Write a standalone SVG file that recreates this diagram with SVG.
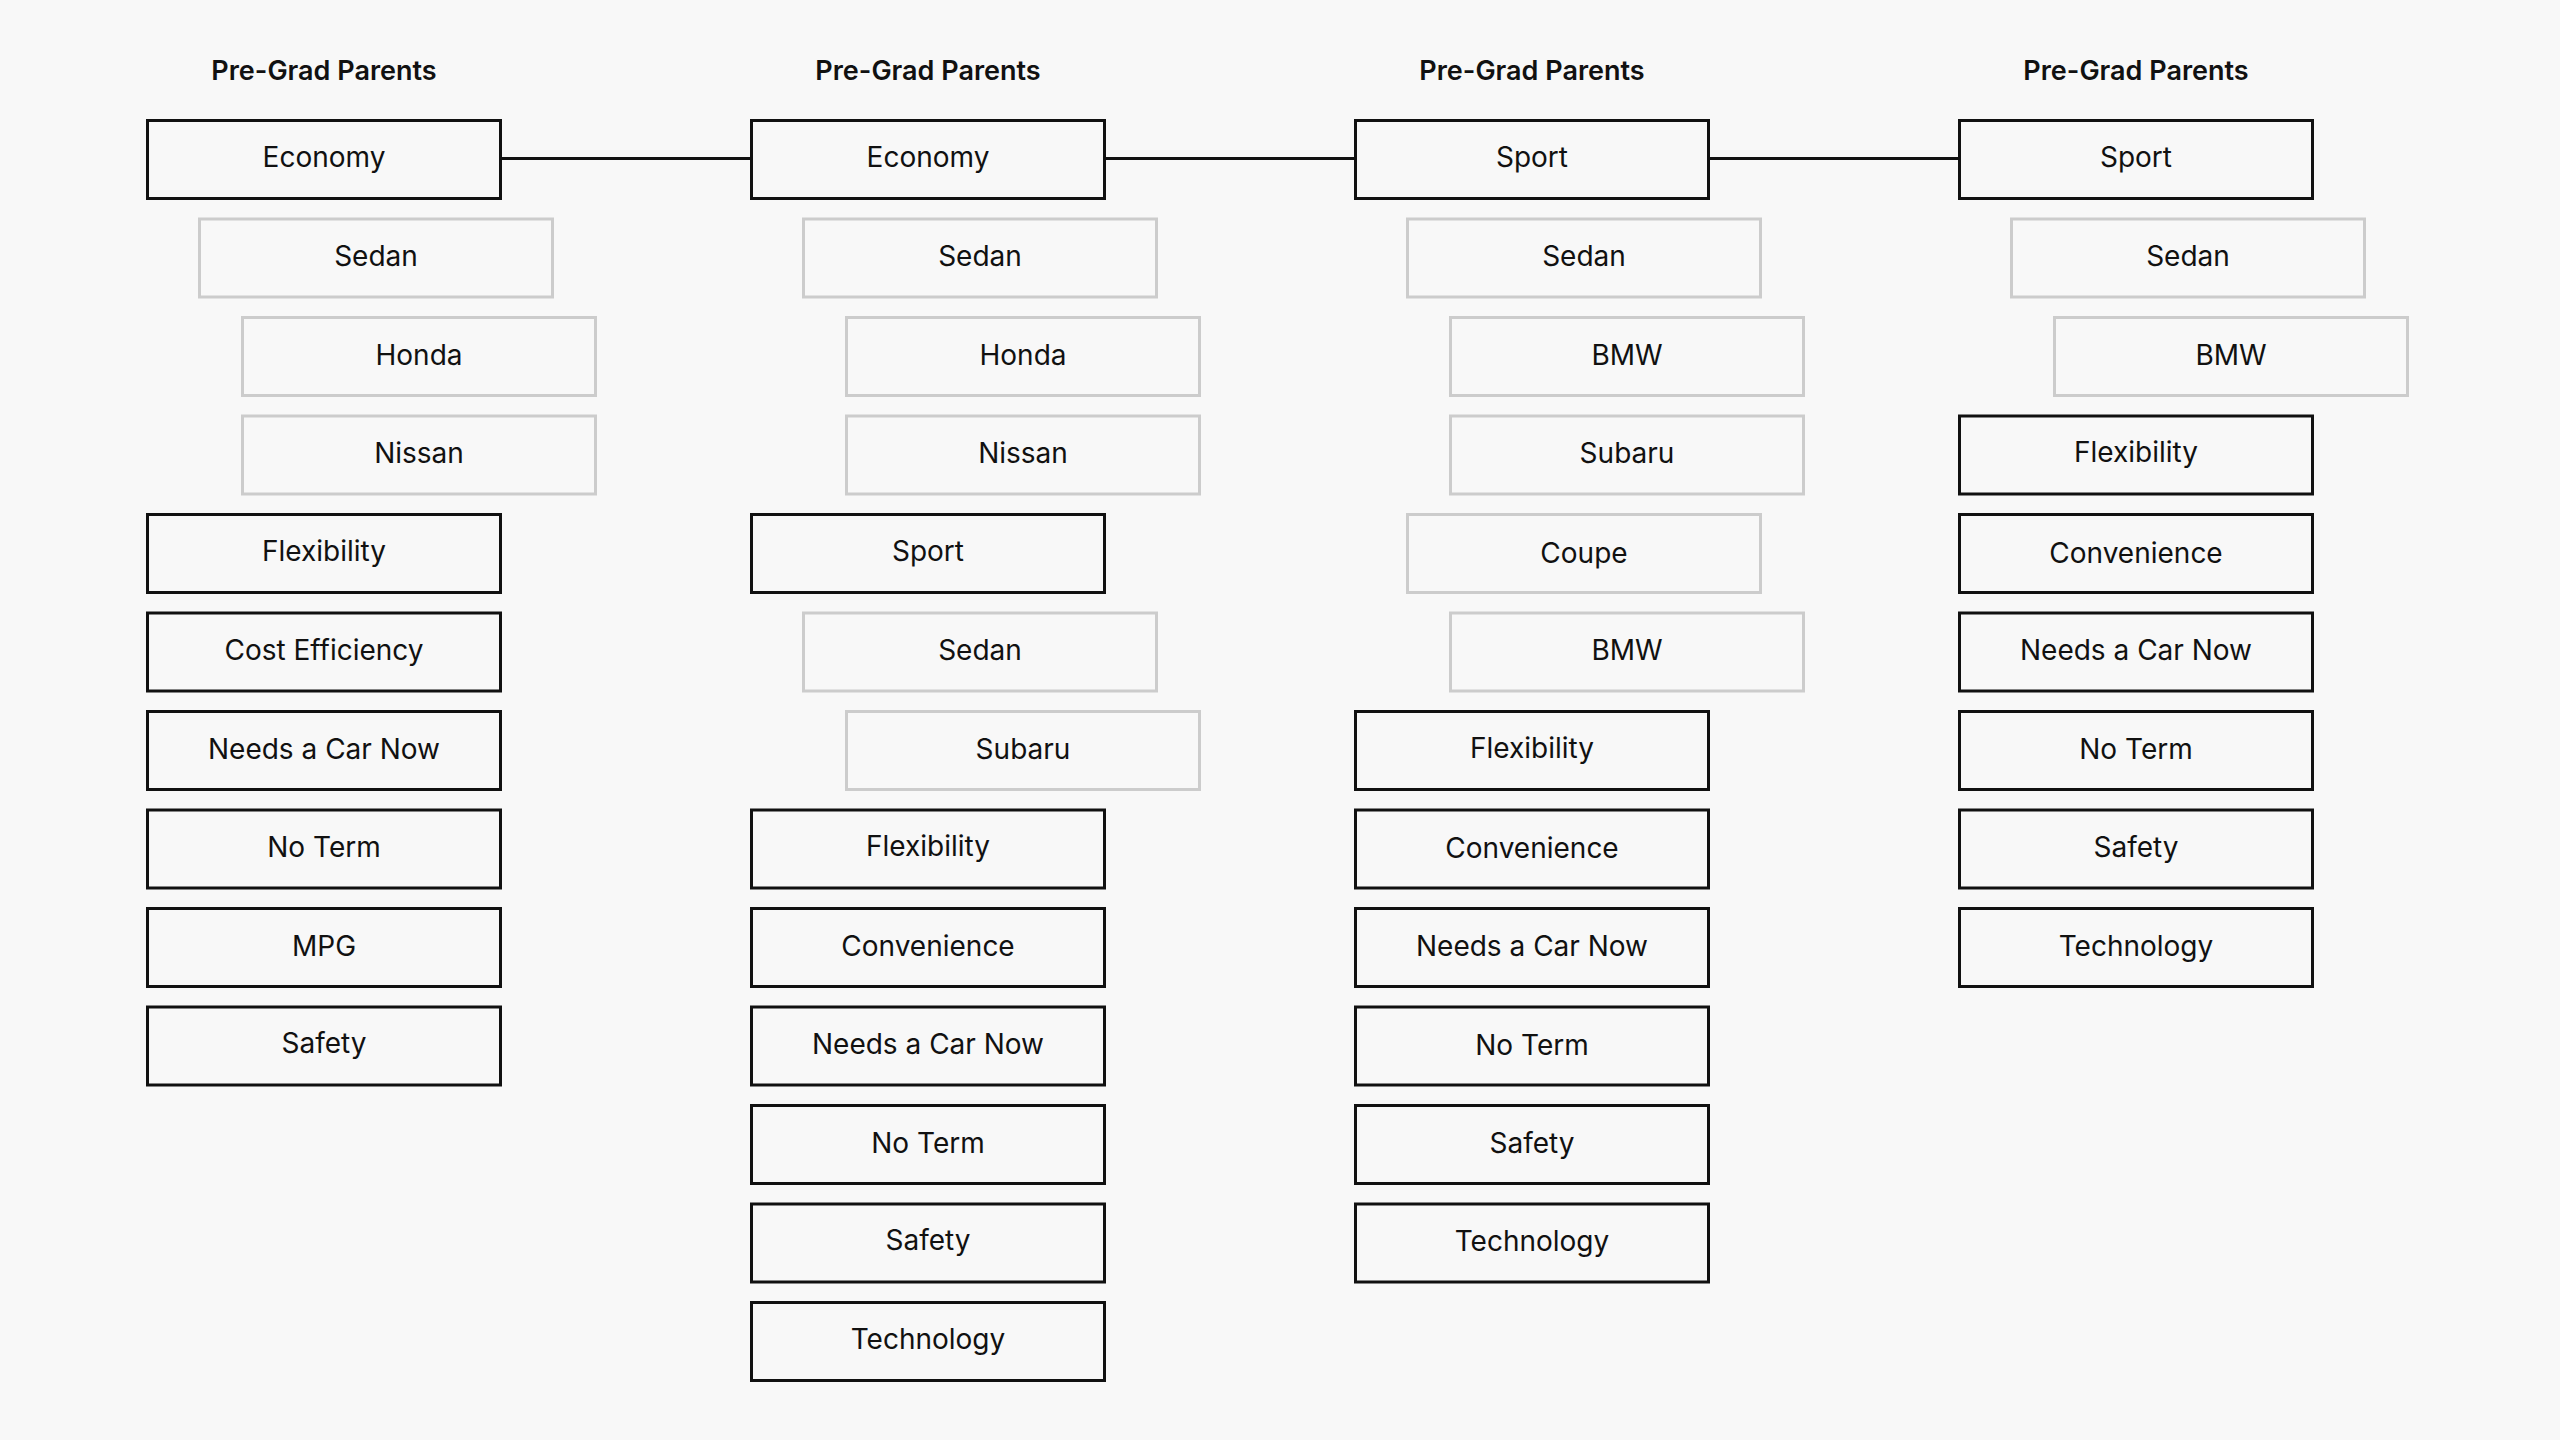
<svg xmlns="http://www.w3.org/2000/svg" width="2560" height="1440" viewBox="0 0 2560 1440">
<style>
.bg{fill:#f8f8f8}
.main rect{fill:#f8f8f8;stroke:#111111;stroke-width:3}
.sub rect{fill:#f8f8f8;stroke:#cccccc;stroke-width:3}
text{font-family:Inter,"Noto Sans","Liberation Sans",sans-serif;font-size:28px;fill:#111111;text-anchor:middle}
.hdr{font-weight:600;font-size:27px;letter-spacing:0px}
.conn line{stroke:#111111;stroke-width:3}
</style>
<rect class="bg" x="0" y="0" width="2560" height="1440"/>
<g id="headers">
<text class="hdr" x="324" y="80">Pre-Grad Parents</text>
<text class="hdr" x="928" y="80">Pre-Grad Parents</text>
<text class="hdr" x="1532" y="80">Pre-Grad Parents</text>
<text class="hdr" x="2136" y="80">Pre-Grad Parents</text>
</g>
<g id="connectors" class="conn">
<line x1="502" y1="158.5" x2="751" y2="158.5"/>
<line x1="1106" y1="158.5" x2="1355" y2="158.5"/>
<line x1="1710" y1="158.5" x2="1959" y2="158.5"/>
</g>
<!-- Column 1 -->
<g id="c1-economy" class="main"><rect x="147.5" y="120.5" width="353" height="78"/><text x="324" y="166.5">Economy</text></g>
<g id="c1-sedan" class="sub"><rect x="199.5" y="219" width="353" height="78"/><text x="376" y="266">Sedan</text></g>
<g id="c1-honda" class="sub"><rect x="242.5" y="317.5" width="353" height="78"/><text x="419" y="364.5">Honda</text></g>
<g id="c1-nissan" class="sub"><rect x="242.5" y="416" width="353" height="78"/><text x="419" y="463">Nissan</text></g>
<g id="c1-flexibility" class="main"><rect x="147.5" y="514.5" width="353" height="78"/><text x="324" y="560.5">Flexibility</text></g>
<g id="c1-cost" class="main"><rect x="147.5" y="613" width="353" height="78"/><text x="324" y="660">Cost Efficiency</text></g>
<g id="c1-needs" class="main"><rect x="147.5" y="711.5" width="353" height="78"/><text x="324" y="758.5">Needs a Car Now</text></g>
<g id="c1-noterm" class="main"><rect x="147.5" y="810" width="353" height="78"/><text x="324" y="857">No Term</text></g>
<g id="c1-mpg" class="main"><rect x="147.5" y="908.5" width="353" height="78"/><text x="324" y="955.5">MPG</text></g>
<g id="c1-safety" class="main"><rect x="147.5" y="1007" width="353" height="78"/><text x="324" y="1053">Safety</text></g>
<!-- Column 2 -->
<g id="c2-economy" class="main"><rect x="751.5" y="120.5" width="353" height="78"/><text x="928" y="166.5">Economy</text></g>
<g id="c2-sedan" class="sub"><rect x="803.5" y="219" width="353" height="78"/><text x="980" y="266">Sedan</text></g>
<g id="c2-honda" class="sub"><rect x="846.5" y="317.5" width="353" height="78"/><text x="1023" y="364.5">Honda</text></g>
<g id="c2-nissan" class="sub"><rect x="846.5" y="416" width="353" height="78"/><text x="1023" y="463">Nissan</text></g>
<g id="c2-sport" class="main"><rect x="751.5" y="514.5" width="353" height="78"/><text x="928" y="560.5">Sport</text></g>
<g id="c2-sedan2" class="sub"><rect x="803.5" y="613" width="353" height="78"/><text x="980" y="660">Sedan</text></g>
<g id="c2-subaru" class="sub"><rect x="846.5" y="711.5" width="353" height="78"/><text x="1023" y="758.5">Subaru</text></g>
<g id="c2-flexibility" class="main"><rect x="751.5" y="810" width="353" height="78"/><text x="928" y="856">Flexibility</text></g>
<g id="c2-convenience" class="main"><rect x="751.5" y="908.5" width="353" height="78"/><text x="928" y="955.5">Convenience</text></g>
<g id="c2-needs" class="main"><rect x="751.5" y="1007" width="353" height="78"/><text x="928" y="1054">Needs a Car Now</text></g>
<g id="c2-noterm" class="main"><rect x="751.5" y="1105.5" width="353" height="78"/><text x="928" y="1152.5">No Term</text></g>
<g id="c2-safety" class="main"><rect x="751.5" y="1204" width="353" height="78"/><text x="928" y="1250">Safety</text></g>
<g id="c2-technology" class="main"><rect x="751.5" y="1302.5" width="353" height="78"/><text x="928" y="1348.5">Technology</text></g>
<!-- Column 3 -->
<g id="c3-sport" class="main"><rect x="1355.5" y="120.5" width="353" height="78"/><text x="1532" y="166.5">Sport</text></g>
<g id="c3-sedan" class="sub"><rect x="1407.5" y="219" width="353" height="78"/><text x="1584" y="266">Sedan</text></g>
<g id="c3-bmw" class="sub"><rect x="1450.5" y="317.5" width="353" height="78"/><text x="1627" y="364.5">BMW</text></g>
<g id="c3-subaru" class="sub"><rect x="1450.5" y="416" width="353" height="78"/><text x="1627" y="463">Subaru</text></g>
<g id="c3-coupe" class="sub"><rect x="1407.5" y="514.5" width="353" height="78"/><text x="1584" y="562.5">Coupe</text></g>
<g id="c3-bmw2" class="sub"><rect x="1450.5" y="613" width="353" height="78"/><text x="1627" y="660">BMW</text></g>
<g id="c3-flexibility" class="main"><rect x="1355.5" y="711.5" width="353" height="78"/><text x="1532" y="757.5">Flexibility</text></g>
<g id="c3-convenience" class="main"><rect x="1355.5" y="810" width="353" height="78"/><text x="1532" y="858">Convenience</text></g>
<g id="c3-needs" class="main"><rect x="1355.5" y="908.5" width="353" height="78"/><text x="1532" y="955.5">Needs a Car Now</text></g>
<g id="c3-noterm" class="main"><rect x="1355.5" y="1007" width="353" height="78"/><text x="1532" y="1054.5">No Term</text></g>
<g id="c3-safety" class="main"><rect x="1355.5" y="1105.5" width="353" height="78"/><text x="1532" y="1152.5">Safety</text></g>
<g id="c3-technology" class="main"><rect x="1355.5" y="1204" width="353" height="78"/><text x="1532" y="1251">Technology</text></g>
<!-- Column 4 -->
<g id="c4-sport" class="main"><rect x="1959.5" y="120.5" width="353" height="78"/><text x="2136" y="166.5">Sport</text></g>
<g id="c4-sedan" class="sub"><rect x="2011.5" y="219" width="353" height="78"/><text x="2188" y="266">Sedan</text></g>
<g id="c4-bmw" class="sub"><rect x="2054.5" y="317.5" width="353" height="78"/><text x="2231" y="364.5">BMW</text></g>
<g id="c4-flexibility" class="main"><rect x="1959.5" y="416" width="353" height="78"/><text x="2136" y="462">Flexibility</text></g>
<g id="c4-convenience" class="main"><rect x="1959.5" y="514.5" width="353" height="78"/><text x="2136" y="562.5">Convenience</text></g>
<g id="c4-needs" class="main"><rect x="1959.5" y="613" width="353" height="78"/><text x="2136" y="660">Needs a Car Now</text></g>
<g id="c4-noterm" class="main"><rect x="1959.5" y="711.5" width="353" height="78"/><text x="2136" y="759">No Term</text></g>
<g id="c4-safety" class="main"><rect x="1959.5" y="810" width="353" height="78"/><text x="2136" y="857">Safety</text></g>
<g id="c4-technology" class="main"><rect x="1959.5" y="908.5" width="353" height="78"/><text x="2136" y="955.5">Technology</text></g>
</svg>
